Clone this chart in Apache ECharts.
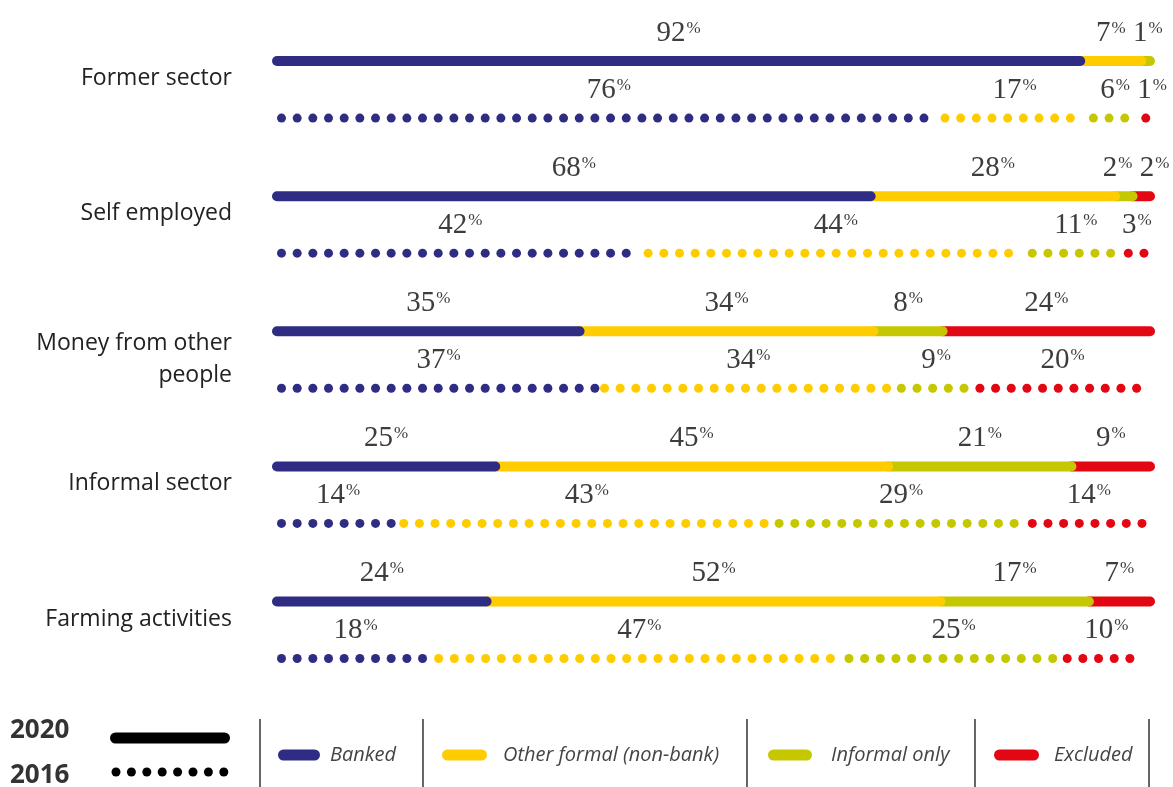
<!DOCTYPE html>
<html>
<head>
<meta charset="utf-8">
<title>Sources of income and financial inclusion, 2020 vs 2016</title>
<script src="https://cdn.jsdelivr.net/npm/echarts@6/dist/echarts.min.js"></script>
<style>
  html, body { margin: 0; padding: 0; background: #ffffff; }
  #chart { width: 1173px; height: 787px; }
</style>
</head>
<body>
<div id="chart"></div>
<script>
// ---- data ----
const categories = ['Former sector', 'Self employed', 'Money from other\npeople', 'Informal sector', 'Farming activities'];
const groups = ['Banked', 'Other formal (non-bank)', 'Informal only', 'Excluded'];
const years = ['2020', '2016'];

const banked2020       = [92, 68, 35, 25, 24];
const otherFormal2020  = [7, 28, 34, 45, 52];
const informalOnly2020 = [1, 2, 8, 21, 17];
const excluded2020     = [0, 2, 24, 9, 7];

const banked2016       = [76, 42, 37, 14, 18];
const otherFormal2016  = [17, 44, 34, 43, 47];
const informalOnly2016 = [6, 11, 9, 29, 25];
const excluded2016     = [1, 3, 20, 14, 10];

// ---- styling ----
const colors = ['#2e2d83', '#ffcc00', '#c5c800', '#e30613'];
const ROW_SHIFT = 28.5;     // half the gap between the 2020 and 2016 rows
const LINE_W = 10;
const DOT_D = 9;
const DOT_STEP = 15.67;
const LABEL_RISE = 28;
const LABEL_COLOR = '#3d3d3d';
const SERIF = '"Liberation Serif", "DejaVu Serif", serif';
const SANS = '"Open Sans", "Noto Sans", sans-serif';

const valuesByYear = {
  '2020': [banked2020, otherFormal2020, informalOnly2020, excluded2020],
  '2016': [banked2016, otherFormal2016, informalOnly2016, excluded2016]
};

function rowTotal(year, i) {
  return valuesByYear[year].reduce((s, r) => s + r[i], 0);
}

// each row is a 100% stack: [categoryIndex, startShare, endShare, value, groupIndex]
function segments(year, g) {
  const rows = valuesByYear[year];
  return categories.map((_, i) => {
    const total = rowTotal(year, i);
    let start = 0;
    for (let k = 0; k < g; k++) start += rows[k][i];
    const v = rows[g][i];
    return [i, start / total * 100, (start + v) / total * 100, v, g];
  });
}

// label centres of one row, nudged apart where neighbouring labels would collide
function rowLabelCenters(year, cat, api) {
  const rows = valuesByYear[year];
  const total = rowTotal(year, cat);
  const items = [];
  let acc = 0;
  rows.forEach((r, g) => {
    const v = r[cat];
    const a = acc / total * 100;
    acc += v;
    const b = acc / total * 100;
    if (v) {
      const x = (api.coord([a, cat])[0] + api.coord([b, cat])[0]) / 2;
      items.push({ g, x, w: String(v).length * 15 + 14 });
    }
  });
  const gap = (p, q) => (p.w + q.w) / 2 + 8;
  for (let i = 1; i < items.length; i++) {
    const d = gap(items[i - 1], items[i]);
    if (items[i].x - items[i - 1].x < d) items[i].x = items[i - 1].x + d;
  }
  const last = items[items.length - 1];
  const maxX = api.getWidth() - 4 - last.w / 2;
  if (last.x > maxX) last.x = maxX;
  for (let i = items.length - 2; i >= 0; i--) {
    const d = gap(items[i], items[i + 1]);
    if (items[i + 1].x - items[i].x < d) items[i].x = items[i + 1].x - d;
  }
  const out = {};
  items.forEach(it => { out[it.g] = it.x; });
  return out;
}

function makeRender(year, color) {
  return function (params, api) {
    const cat = api.value(0), a = api.value(1), b = api.value(2), v = api.value(3), g = api.value(4);
    if (!v) return null;
    const p0 = api.coord([a, cat]);
    const p1 = api.coord([b, cat]);
    const y = p0[1] + (year === '2020' ? -ROW_SHIFT : ROW_SHIFT);
    const children = [];
    if (year === '2020') {
      children.push({
        type: 'line',
        shape: { x1: p0[0], y1: y, x2: p1[0], y2: y },
        style: { stroke: color, lineWidth: LINE_W, lineCap: 'round' }
      });
    } else {
      const len = p1[0] - p0[0];
      const n = Math.max(1, Math.floor((len - DOT_D) / DOT_STEP) + 1);
      for (let k = 0; k < n; k++) {
        children.push({
          type: 'circle',
          shape: { cx: p0[0] + DOT_D / 2 + k * DOT_STEP, cy: y, r: DOT_D / 2 },
          style: { fill: color }
        });
      }
    }
    const lx = rowLabelCenters(year, cat, api)[g];
    children.push({
      type: 'text',
      x: lx,
      y: y - LABEL_RISE,
      z2: 10,
      style: {
        text: '{n|' + v + '}{p|%}',
        align: 'center',
        verticalAlign: 'middle',
        rich: {
          n: { fontSize: 29, lineHeight: 29, fontFamily: SERIF, fill: LABEL_COLOR },
          p: { fontSize: 17, lineHeight: 17, fontFamily: SERIF, fill: LABEL_COLOR, verticalAlign: 'top', padding: [1, 0, 0, 1] }
        }
      }
    });
    return { type: 'group', children };
  };
}

const series = [];
years.forEach(year => {
  // later groups first so each segment's rounded end sits over the next one
  for (let g = groups.length - 1; g >= 0; g--) {
    series.push({
      type: 'custom',
      name: groups[g] + ' ' + year,
      coordinateSystem: 'cartesian2d',
      renderItem: makeRender(year, colors[g]),
      encode: { x: [1, 2], y: 0 },
      data: segments(year, g),
      clip: false,
      silent: true
    });
  }
});

// ---- legend (drawn as graphics) ----
const legendY = 755;
const separators = [260, 423, 747, 975, 1149];
const swatchX = [[283.5, 314.5], [447.5, 481.5], [773.5, 806.5], [999.5, 1033.5]];
const legendTextX = [330, 503, 831, 1054];

const graphic = [];
graphic.push({
  type: 'text', x: 10, y: 731,
  style: { text: years[0], fontSize: 26, fontWeight: 'bold', fontFamily: SANS, fill: '#333', verticalAlign: 'middle' }
});
graphic.push({
  type: 'text', x: 10, y: 776,
  style: { text: years[1], fontSize: 26, fontWeight: 'bold', fontFamily: SANS, fill: '#333', verticalAlign: 'middle' }
});
graphic.push({
  type: 'line', shape: { x1: 115.5, y1: 738, x2: 224.5, y2: 738 },
  style: { stroke: '#000', lineWidth: 11, lineCap: 'round' }
});
for (let k = 0; k < 8; k++) {
  graphic.push({
    type: 'circle', shape: { cx: 116 + k * 15.4, cy: 772, r: 4.5 }, style: { fill: '#000' }
  });
}
separators.forEach(x => {
  graphic.push({
    type: 'line', shape: { x1: x, y1: 719, x2: x, y2: 787 },
    style: { stroke: '#666', lineWidth: 2 }
  });
});
groups.forEach((name, g) => {
  graphic.push({
    type: 'line', shape: { x1: swatchX[g][0], y1: legendY, x2: swatchX[g][1], y2: legendY },
    style: { stroke: colors[g], lineWidth: 11, lineCap: 'round' }
  });
  graphic.push({
    type: 'text', x: legendTextX[g], y: legendY,
    style: { text: name, fontSize: 20, fontStyle: 'italic', fontFamily: SANS, fill: '#444', verticalAlign: 'middle' }
  });
});

const chart = echarts.init(document.getElementById('chart'), null, { renderer: 'canvas' });
chart.setOption({
  animation: false,
  backgroundColor: '#ffffff',
  grid: { left: 277, right: 23, top: 22, bottom: 89.4, containLabel: false, outerBoundsMode: 'none' },
  xAxis: {
    type: 'value', min: 0, max: 100,
    show: false
  },
  yAxis: {
    type: 'category',
    data: categories,
    inverse: true,
    axisLine: { show: false },
    axisTick: { show: false },
    splitLine: { show: false },
    axisLabel: {
      margin: 45,
      formatter: function (value) {
        if (value.indexOf('\n') >= 0) {
          return value.split('\n').map(s => '{m|' + s + '}').join('\n');
        }
        return '{s|' + value + '}';
      },
      rich: {
        s: { fontSize: 23, fontFamily: SANS, color: '#222', padding: [0, 0, 22, 0] },
        m: { fontSize: 23, lineHeight: 32, fontFamily: SANS, color: '#222' }
      }
    }
  },
  series: series,
  graphic: graphic
});
</script>
</body>
</html>
